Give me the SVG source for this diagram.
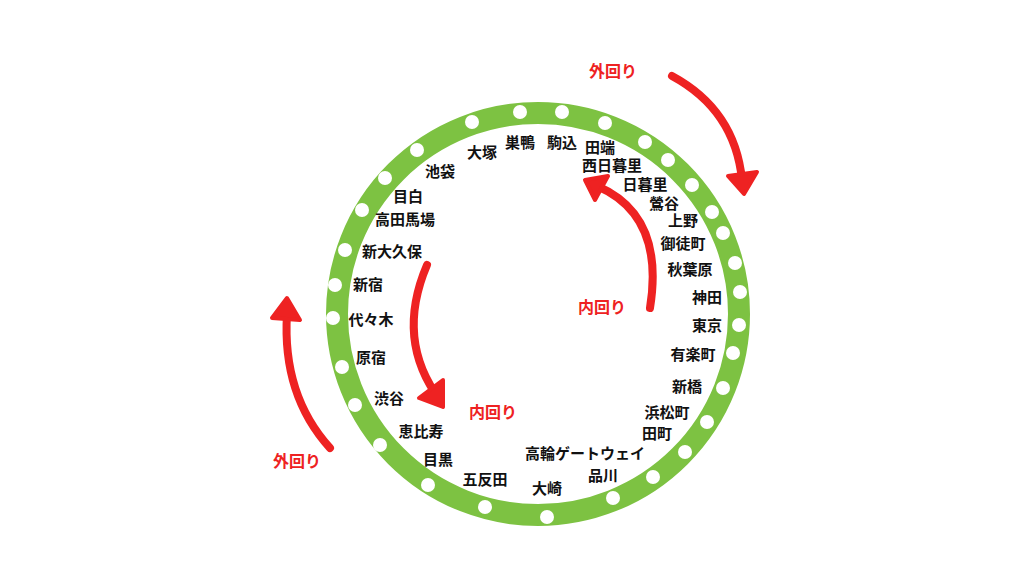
<svg xmlns="http://www.w3.org/2000/svg" width="1024" height="576" viewBox="0 0 1024 576">
<style>
.s{font-family:"Noto Sans CJK JP",sans-serif;font-weight:700;font-size:15px;fill:#111;text-anchor:middle}
.r{font-family:"Noto Sans CJK JP",sans-serif;font-weight:700;font-size:16px;fill:#ee2222;text-anchor:middle}
.a{fill:none;stroke:#ee2222;stroke-width:8;stroke-linecap:round}
.d{fill:#fff}
</style>
<rect width="1024" height="576" fill="#fff"/>
<g id="ring">
<circle cx="538" cy="314" r="201" fill="none" stroke="#7dc242" stroke-width="22"/>
<g class="d">
<circle cx="520" cy="112" r="7"/><circle cx="562" cy="112" r="7"/><circle cx="605" cy="123" r="7"/><circle cx="645" cy="142" r="7"/><circle cx="668" cy="160" r="7"/><circle cx="692" cy="185" r="7"/><circle cx="712" cy="212" r="7"/><circle cx="723" cy="233" r="7"/><circle cx="735" cy="263" r="7"/><circle cx="740" cy="292" r="7"/><circle cx="739" cy="325" r="7"/><circle cx="733" cy="353" r="7"/><circle cx="723" cy="388" r="7"/><circle cx="707" cy="422" r="7"/><circle cx="685" cy="452" r="7"/><circle cx="653" cy="477" r="7"/><circle cx="613" cy="498" r="7"/><circle cx="547" cy="517" r="7"/><circle cx="485" cy="507" r="7"/><circle cx="428" cy="485" r="7"/><circle cx="380" cy="445" r="7"/><circle cx="355" cy="405" r="7"/><circle cx="342" cy="367" r="7"/><circle cx="333" cy="318" r="7"/><circle cx="335" cy="285" r="7"/><circle cx="345" cy="250" r="7"/><circle cx="362" cy="210" r="7"/><circle cx="385" cy="178" r="7"/><circle cx="417" cy="150" r="7"/><circle cx="472" cy="122" r="7"/>
</g>
</g>
<g id="stations">
<text class="s" x="520" y="148">巣鴨</text><text class="s" x="562" y="148">駒込</text><text class="s" x="600" y="153">田端</text><text class="s" x="612" y="171">西日暮里</text><text class="s" x="645" y="190">日暮里</text><text class="s" x="664" y="209">鶯谷</text><text class="s" x="683" y="226">上野</text><text class="s" x="683" y="249">御徒町</text><text class="s" x="690" y="275">秋葉原</text><text class="s" x="707" y="303">神田</text><text class="s" x="707" y="331">東京</text><text class="s" x="693" y="360">有楽町</text><text class="s" x="687" y="392">新橋</text><text class="s" x="667" y="418">浜松町</text><text class="s" x="657" y="439">田町</text><text class="s" x="585" y="459">高輪ゲートウェイ</text><text class="s" x="603" y="481">品川</text><text class="s" x="547" y="494">大崎</text><text class="s" x="485" y="485">五反田</text><text class="s" x="438" y="465">目黒</text><text class="s" x="421" y="437">恵比寿</text><text class="s" x="389" y="404">渋谷</text><text class="s" x="371" y="363">原宿</text><text class="s" x="371" y="325">代々木</text><text class="s" x="368" y="290">新宿</text><text class="s" x="392" y="257">新大久保</text><text class="s" x="405" y="225">高田馬場</text><text class="s" x="408" y="202">目白</text><text class="s" x="440" y="177">池袋</text><text class="s" x="482" y="158">大塚</text>
</g>
<g id="connectors">
<path class="a" d="M672,76 Q735,110 742,180"/><path d="M728,176 L744,194 L757,172 Z" fill="#ee2222" stroke="#ee2222" stroke-width="4" stroke-linejoin="round"/>
<path class="a" d="M330,448 Q282,395 287,314"/><path d="M272,318 L287,298 L300,320 Z" fill="#ee2222" stroke="#ee2222" stroke-width="4" stroke-linejoin="round"/>
<path class="a" d="M650,308 Q665,215 597,186"/><path d="M595,200 L585,180 L608,176 Z" fill="#ee2222" stroke="#ee2222" stroke-width="4" stroke-linejoin="round"/>
<path class="a" d="M427,265 Q395,340 440,400"/><path d="M419,398 L443,407 L443,380 Z" fill="#ee2222" stroke="#ee2222" stroke-width="4" stroke-linejoin="round"/>
</g>
<g id="labels">
<text class="r" x="613" y="77">外回り</text><text class="r" x="297" y="467">外回り</text><text class="r" x="602" y="313">内回り</text><text class="r" x="493" y="418">内回り</text>
</g>
</svg>
